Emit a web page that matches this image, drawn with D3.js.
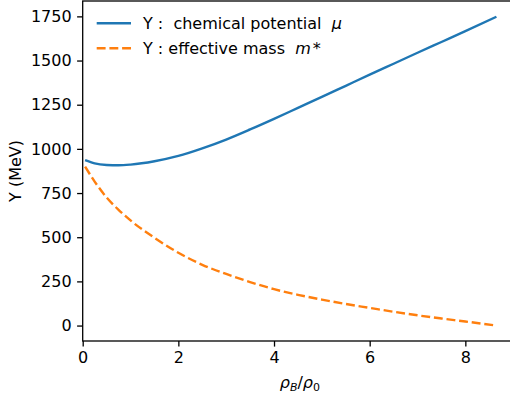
<!DOCTYPE html>
<html lang="en">
<head>
  <meta charset="UTF-8">
  <title>Chemical potential and effective mass</title>
  <script src="https://d3js.org/d3.v7.min.js"></script>
  <style>
    body { margin: 0; background: #fff; }
    svg { font-family: "DejaVu Sans", sans-serif; }
  </style>
</head>
<body>
  <div id="chart"></div>
  <script>
    // density ratio rho_B / rho_0
    const density = [0.05, 0.25, 0.5, 0.75, 1.0, 1.5, 2.0, 2.5, 3.0, 3.5, 4.0, 4.5, 5.0, 5.5, 6.0, 6.5, 7.0, 7.5, 8.0, 8.65];
    // chemical potential mu (MeV)
    const chemPotential = [936, 918, 909, 907, 911, 930, 960, 1003, 1053, 1110, 1170, 1232, 1294, 1357, 1420, 1482, 1544, 1605, 1666, 1748];
    // effective mass m* (MeV)
    const effMass = [900, 815, 725, 655, 595, 497, 412, 344, 292, 246, 206, 174, 147, 122, 100, 78, 58, 40, 23, 0];

    const xTicks = [0, 2, 4, 6, 8];
    const yTicks = [0, 250, 500, 750, 1000, 1250, 1500, 1750];

    const width = 510, height = 396;
    const plotLeft = 82.7, plotTop = 1, plotBottom = 341;
    const xMax = 9.08;

    const svg = d3.select("#chart").append("svg")
      .attr("width", width)
      .attr("height", height);

    const x = d3.scaleLinear().domain([0, xMax]).range([plotLeft, plotLeft + xMax * 47.83]);
    const y = d3.scaleLinear().domain([-87.4, 1837]).range([plotBottom, plotTop]);

    const lineFor = vals => d3.line()
      .x((d, i) => x(density[i]))
      .y(d => y(d))
      .curve(d3.curveMonotoneX)(vals);

    svg.append("path")
      .attr("d", lineFor(chemPotential))
      .attr("fill", "none")
      .attr("stroke", "#1f77b4")
      .attr("stroke-width", 2.4);

    svg.append("path")
      .attr("d", lineFor(effMass))
      .attr("fill", "none")
      .attr("stroke", "#ff7f0e")
      .attr("stroke-width", 2.4)
      .attr("stroke-dasharray", "8.9,3.8");

    // axes
    const xAxis = svg.append("g")
      .attr("transform", `translate(0,${plotBottom})`)
      .call(d3.axisBottom(x).tickValues(xTicks).tickSize(5.6).tickPadding(5.5).tickFormat(d3.format("d")));
    const yAxis = svg.append("g")
      .attr("transform", `translate(${plotLeft},0)`)
      .call(d3.axisLeft(y).tickValues(yTicks).tickSize(5.6).tickPadding(5.5).tickFormat(d3.format("d")));

    [xAxis, yAxis].forEach(g => {
      g.select(".domain").remove();
      g.selectAll("line").attr("stroke", "#000").attr("stroke-width", 1.3);
      g.selectAll("text").attr("font-size", 16).attr("fill", "#000")
        .attr("font-family", "DejaVu Sans, sans-serif");
    });

    // spines
    const xr = x(xMax);
    svg.append("rect")
      .attr("x", plotLeft).attr("y", plotTop)
      .attr("width", xr - plotLeft).attr("height", plotBottom - plotTop)
      .attr("fill", "none").attr("stroke", "#000").attr("stroke-width", 1.3);

    // axis labels
    const xl = svg.append("text")
      .attr("x", (plotLeft + xr) / 2)
      .attr("y", 388)
      .attr("text-anchor", "middle")
      .attr("font-size", 16);
    xl.append("tspan").attr("font-style", "italic").text("ρ");
    xl.append("tspan").attr("font-style", "italic").attr("font-size", 11).attr("dy", 3).text("B");
    xl.append("tspan").attr("dy", -3).text("/");
    xl.append("tspan").attr("font-style", "italic").text("ρ");
    xl.append("tspan").attr("font-size", 11).attr("dy", 3).text("0");

    svg.append("text")
      .attr("transform", `translate(21,${(plotTop + plotBottom) / 2}) rotate(-90)`)
      .attr("text-anchor", "middle")
      .attr("font-size", 16)
      .text("Y (MeV)");

    // legend
    const legendItems = [
      { color: "#1f77b4", dash: null, label: "Y :  chemical potential  ", sym: "μ", tail: "" },
      { color: "#ff7f0e", dash: "8.9,3.8", label: "Y : effective mass  ", sym: "m", tail: "*" }
    ];
    legendItems.forEach((d, i) => {
      const ly = 23.3 + i * 25;
      svg.append("line")
        .attr("x1", 96.7).attr("x2", 131)
        .attr("y1", ly).attr("y2", ly)
        .attr("stroke", d.color).attr("stroke-width", 2.4)
        .attr("stroke-dasharray", d.dash);
      const t = svg.append("text")
        .attr("x", 143)
        .attr("y", ly + 6)
        .attr("font-size", 16)
        .style("white-space", "pre");
      t.append("tspan").text(d.label);
      t.append("tspan").attr("font-style", "italic").text(d.sym);
      if (d.tail) t.append("tspan").attr("dx", 2).text(d.tail);
    });
  </script>
</body>
</html>
